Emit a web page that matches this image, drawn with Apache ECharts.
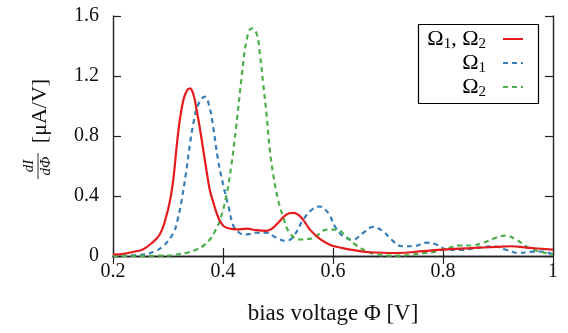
<!DOCTYPE html>
<html>
<head>
<meta charset="utf-8">
<script src="https://cdn.jsdelivr.net/npm/echarts@6/dist/echarts.min.js"></script>
<style>
  html, body { margin: 0; padding: 0; background: #fff; }
  #chart { width: 568px; height: 333px; }
</style>
</head>
<body>
<div id="chart"></div>
<script>
// Omega1, Omega2 (red, solid)
var redX = [0.2, 0.22, 0.24, 0.255, 0.27, 0.285, 0.295, 0.304, 0.31, 0.316, 0.322, 0.328, 0.334, 0.34, 0.346, 0.352, 0.358, 0.364, 0.37, 0.376, 0.383, 0.389, 0.395, 0.401, 0.41, 0.425, 0.443, 0.461, 0.479, 0.49, 0.5, 0.515, 0.528, 0.543, 0.558, 0.576, 0.595, 0.615, 0.631, 0.667, 0.716, 0.764, 0.8, 0.849, 0.898, 0.922, 0.958, 1.0];
var redY = [0.01, 0.015, 0.03, 0.045, 0.085, 0.143, 0.24, 0.376, 0.52, 0.74, 0.92, 1.04, 1.1, 1.117, 1.08, 0.975, 0.85, 0.71, 0.57, 0.44, 0.35, 0.28, 0.23, 0.2, 0.185, 0.177, 0.182, 0.172, 0.168, 0.185, 0.22, 0.276, 0.287, 0.254, 0.176, 0.114, 0.074, 0.055, 0.043, 0.025, 0.02, 0.032, 0.043, 0.052, 0.061, 0.065, 0.054, 0.042];

// Omega1 (blue, dashed)
var blueX = [0.2, 0.255, 0.275, 0.291, 0.31, 0.318, 0.325, 0.333, 0.34, 0.347, 0.355, 0.367, 0.375, 0.382, 0.391, 0.401, 0.41, 0.419, 0.428, 0.437, 0.45, 0.461, 0.479, 0.497, 0.515, 0.528, 0.546, 0.562, 0.576, 0.586, 0.595, 0.603, 0.619, 0.637, 0.655, 0.673, 0.691, 0.706, 0.725, 0.746, 0.77, 0.789, 0.807, 0.831, 0.855, 0.891, 0.916, 0.937, 0.958, 0.979, 1.0];
var blueY = [0.0, 0.01, 0.03, 0.065, 0.155, 0.25, 0.376, 0.56, 0.75, 0.9, 1.01, 1.063, 1.0, 0.864, 0.64, 0.464, 0.33, 0.2, 0.16, 0.143, 0.148, 0.155, 0.155, 0.121, 0.1, 0.13, 0.243, 0.31, 0.33, 0.31, 0.265, 0.2, 0.13, 0.11, 0.155, 0.194, 0.165, 0.11, 0.065, 0.065, 0.089, 0.075, 0.043, 0.04, 0.05, 0.065, 0.04, 0.02, 0.027, 0.03, 0.01];

// Omega2 (green, dashed)
var greenX = [0.2, 0.3, 0.316, 0.335, 0.352, 0.365, 0.376, 0.386, 0.395, 0.406, 0.415, 0.424, 0.434, 0.443, 0.452, 0.461, 0.467, 0.473, 0.479, 0.485, 0.491, 0.5, 0.509, 0.521, 0.54, 0.564, 0.589, 0.607, 0.625, 0.643, 0.661, 0.679, 0.703, 0.721, 0.746, 0.767, 0.788, 0.81, 0.831, 0.852, 0.873, 0.895, 0.913, 0.935, 0.953, 0.973, 1.0];
var greenY = [0.0, 0.003, 0.01, 0.022, 0.043, 0.07, 0.11, 0.17, 0.243, 0.4, 0.6, 0.864, 1.196, 1.44, 1.518, 1.485, 1.35, 1.15, 0.95, 0.71, 0.55, 0.376, 0.265, 0.155, 0.11, 0.12, 0.176, 0.176, 0.125, 0.07, 0.032, 0.01, 0.003, 0.003, 0.01, 0.02, 0.03, 0.054, 0.07, 0.07, 0.088, 0.12, 0.136, 0.105, 0.061, 0.032, 0.01];

var seriesNames = ['Ω1,Ω2', 'Ω1', 'Ω2'];
var legendLabels = ['{o|Ω}{s|1}{o|, Ω}{s|2}', '{o|Ω}{s|1}', '{o|Ω}{s|2}'];
var xTicks = [0.2, 1, 0.2];   // min, max, interval
var yTicks = [0, 1.6, 0.4];

var FONT = 'Liberation Serif';

function pairs(xs, ys) {
  return xs.map(function (x, i) { return [x, ys[i]]; });
}

var chart = echarts.init(document.getElementById('chart'), null, { renderer: 'canvas' });

var axisLine = { show: true, lineStyle: { color: '#222', width: 1.4 } };
var tick = { show: true, inside: true, length: 8, lineStyle: { color: '#222', width: 1.2 } };

var richText = {
  o: { fontFamily: FONT, fontSize: 22, color: '#000' },
  s: { fontFamily: FONT, fontSize: 15, color: '#000', padding: [10, 0, 0, 0] }
};

function oneLegend(i, top) {
  return {
    data: [seriesNames[i]],
    right: 44,
    top: top,
    orient: 'vertical',
    align: 'right',
    padding: 0,
    itemWidth: 20,
    itemHeight: 10,
    itemStyle: { opacity: 0 },
    textStyle: { padding: [0, 12, 0, 0], rich: richText },
    formatter: function () { return legendLabels[i]; }
  };
}

chart.setOption({
  animation: false,
  backgroundColor: '#fff',
  grid: { left: 113, right: 15, top: 16, bottom: 77 },
  xAxis: [{
    type: 'value',
    min: xTicks[0], max: xTicks[1], interval: xTicks[2],
    axisLine: axisLine, axisTick: tick, splitLine: { show: false },
    axisLabel: {
      fontFamily: FONT, fontSize: 20, color: '#111', margin: 6,
      formatter: function (v) { return String(+v.toFixed(1)); }
    },
    name: 'bias voltage Φ [V]',
    nameLocation: 'middle',
    nameGap: 46,
    nameTextStyle: { fontFamily: FONT, fontSize: 23, color: '#111' }
  }, {
    type: 'value', position: 'top',
    min: xTicks[0], max: xTicks[1], interval: xTicks[2],
    axisLine: axisLine, axisTick: tick, splitLine: { show: false },
    axisLabel: { show: false }
  }],
  yAxis: [{
    type: 'value',
    min: yTicks[0], max: yTicks[1], interval: yTicks[2],
    axisLine: axisLine, axisTick: tick, splitLine: { show: false },
    axisLabel: {
      fontFamily: FONT, fontSize: 20, color: '#111', margin: 14,
      formatter: function (v) { return String(+v.toFixed(1)); }
    }
  }, {
    type: 'value', position: 'right',
    min: yTicks[0], max: yTicks[1], interval: yTicks[2],
    axisLine: axisLine, axisTick: tick, splitLine: { show: false },
    axisLabel: { show: false }
  }],
  legend: [oneLegend(0, 28), oneLegend(1, 52), oneLegend(2, 76)],
  graphic: [
    {
      type: 'rect', z: 10,
      shape: { x: 418.5, y: 24.5, width: 120, height: 79 },
      style: { fill: 'none', stroke: '#000', lineWidth: 1.2 }
    },
    {
      type: 'group', x: 38, y: 130, rotation: Math.PI / 2,
      children: [
        { type: 'text', x: -36, y: -1,
          style: { text: 'dI', font: 'italic 15px ' + FONT, fill: '#111',
                   align: 'center', verticalAlign: 'bottom', textAlign: 'center', textVerticalAlign: 'bottom' } },
        { type: 'line', shape: { x1: -49, y1: 0, x2: -23, y2: 0 },
          style: { stroke: '#111', lineWidth: 0.9 } },
        { type: 'text', x: -36, y: 1,
          style: { text: 'dΦ', font: 'italic 15px ' + FONT, fill: '#111',
                   align: 'center', verticalAlign: 'top', textAlign: 'center', textVerticalAlign: 'top' } },
        { type: 'text', x: 19, y: 2,
          style: { text: '[μA/V]', font: '22px ' + FONT, fill: '#111',
                   align: 'center', verticalAlign: 'middle', textAlign: 'center', textVerticalAlign: 'middle' } }
      ]
    }
  ],
  series: [
    {
      name: seriesNames[0], type: 'line', data: pairs(redX, redY),
      smooth: 0.4, symbol: 'none', z: 3,
      lineStyle: { color: '#e41a1c', width: 2.2 }, itemStyle: { color: '#e41a1c' }
    },
    {
      name: seriesNames[1], type: 'line', data: pairs(blueX, blueY),
      smooth: 0.4, symbol: 'none', z: 2,
      lineStyle: { color: '#377eb8', width: 2.2, type: [5, 4] }, itemStyle: { color: '#377eb8' }
    },
    {
      name: seriesNames[2], type: 'line', data: pairs(greenX, greenY),
      smooth: 0.4, symbol: 'none', z: 2,
      lineStyle: { color: '#4daf4a', width: 2.2, type: [5, 4] }, itemStyle: { color: '#4daf4a' }
    }
  ]
});
</script>
</body>
</html>
